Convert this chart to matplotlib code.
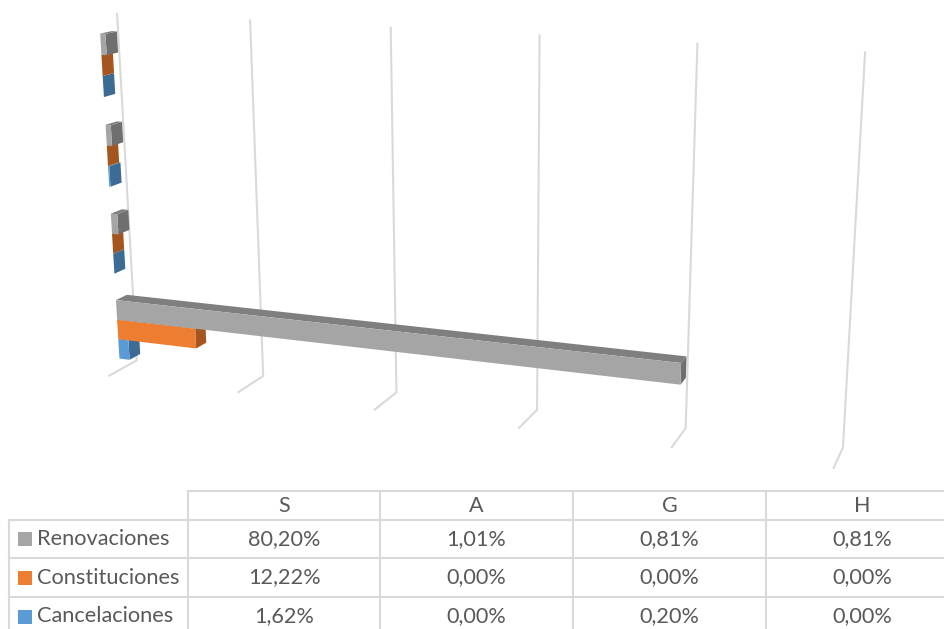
import numpy as np
import matplotlib
matplotlib.use('Agg')
import matplotlib.pyplot as plt
from matplotlib.patches import Polygon, Rectangle

plt.rcParams['font.family'] = ['Lato', 'DejaVu Sans']

categories = ['S', 'A', 'G', 'H']
series_names = ['Renovaciones', 'Constituciones', 'Cancelaciones']
renovaciones = [80.20, 1.01, 0.81, 0.81]
constituciones = [12.22, 0.00, 0.00, 0.00]
cancelaciones = [1.62, 0.00, 0.20, 0.00]
grid_values = [0, 20, 40, 60, 80, 100]

# front, top and side colours of each series
colors = {'Renovaciones': ('#a5a5a5', '#7f7f7f', '#6f6f6f'),
          'Constituciones': ('#ed7d31', '#b25d25', '#a5561f'),
          'Cancelaciones': ('#5b9bd5', '#44749f', '#3c6b94')}
grid_color = '#d9d9d9'
text_color = '#595959'

# pixel positions of the wall corners, used to fit the perspective
# value, depth (0 front, 1 wall), height (0 floor, 1 top) -> px, py
calib = [(0, 1, 1, 118, 13), (0, 1, 0, 137, 362), (0, 0, 0, 108, 377),
         (20, 1, 1, 250, 20), (20, 1, 0, 263, 376), (20, 0, 0, 240, 391),
         (40, 1, 1, 390, 28), (40, 1, 0, 396, 391), (40, 0, 0, 375, 409),
         (60, 1, 1, 539, 36), (60, 1, 0, 537, 409), (60, 0, 0, 519, 428),
         (80, 1, 1, 697, 44), (80, 1, 0, 686, 428), (80, 0, 0, 671, 447),
         (100, 1, 1, 866, 53), (100, 1, 0, 843, 448), (100, 0, 0, 834, 468)]

rows = []
rhs = []
for v, d, h, px, py in calib:
    rows.append([v, d, h, 1, 0, 0, 0, 0, -px * v, -px * d, -px * h])
    rhs.append(px)
    rows.append([0, 0, 0, 0, v, d, h, 1, -py * v, -py * d, -py * h])
    rhs.append(py)
m = np.linalg.lstsq(np.array(rows, float), np.array(rhs, float), rcond=None)[0]
cam = np.append(m, 1).reshape(3, 4)


def proj(v, d, h):
    p = cam @ np.array([v, d, h, 1.0])
    return p[0] / p[2], p[1] / p[2]


fig = plt.figure(figsize=(9.44, 6.29), dpi=100)
ax = fig.add_axes([0, 0, 1, 1])
ax.set_xlim(0, 944)
ax.set_ylim(629, 0)
ax.axis('off')

for v in grid_values:
    pts = [proj(v, 1, 1), proj(v, 1, 0), proj(v, 0, 0)]
    ax.plot([p[0] for p in pts], [p[1] for p in pts], color=grid_color, lw=1.5,
            solid_joinstyle='miter', zorder=1)

d_front, d_back = 0.39, 0.78
band = 1 / len(categories)
bar_h = 0.0577
margin = 0.033


def draw_bar(val, h0, h1, cols, z):
    front = [proj(0, d_front, h0), proj(val, d_front, h0), proj(val, d_front, h1), proj(0, d_front, h1)]
    top = [proj(0, d_front, h1), proj(val, d_front, h1), proj(val, d_back, h1), proj(0, d_back, h1)]
    side = [proj(val, d_front, h0), proj(val, d_back, h0), proj(val, d_back, h1), proj(val, d_front, h1)]
    ax.add_patch(Polygon(side, closed=True, fc=cols[2], ec='none', zorder=z))
    ax.add_patch(Polygon(top, closed=True, fc=cols[1], ec='none', zorder=z))
    ax.add_patch(Polygon(front, closed=True, fc=cols[0], ec='none', zorder=z))


# lower bars first, the upper ones cover them
z = 2
for i in range(len(categories) - 1, -1, -1):
    base = i * band + margin
    for j, (name, vals) in enumerate(zip(series_names[::-1], [cancelaciones, constituciones, renovaciones])):
        draw_bar(vals[i], base + j * bar_h, base + (j + 1) * bar_h, colors[name], z)
        z += 1

# data table, the last column runs past the edge of the picture
col_x = [9, 188, 380, 573, 766, 959]
row_y = [491, 520, 558, 597, 636]
lw = 1.5
ax.plot([col_x[1], col_x[-1]], [row_y[0], row_y[0]], color=grid_color, lw=lw)
for y in row_y[1:]:
    ax.plot([col_x[0], col_x[-1]], [y, y], color=grid_color, lw=lw)
ax.plot([col_x[0], col_x[0]], [row_y[1], row_y[-1]], color=grid_color, lw=lw)
for x in col_x[1:]:
    ax.plot([x, x], [row_y[0], row_y[-1]], color=grid_color, lw=lw)

for k, cat in enumerate(categories):
    ax.text((col_x[k + 1] + col_x[k + 2]) / 2, (row_y[0] + row_y[1]) / 2, cat, ha='center', va='center',
            color=text_color, fontsize=15.5)

table_rows = [renovaciones, constituciones, cancelaciones]
for r, name in enumerate(series_names):
    yc = (row_y[r + 1] + row_y[r + 2]) / 2
    ax.add_patch(Rectangle((18, yc - 7), 14, 14, fc=colors[name][0], ec='none'))
    ax.text(37, yc, name, ha='left', va='center', color=text_color, fontsize=15.7)
    for k, val in enumerate(table_rows[r]):
        label = '{:.2f}%'.format(val).replace('.', ',')
        ax.text((col_x[k + 1] + col_x[k + 2]) / 2, yc, label, ha='center', va='center',
                color=text_color, fontsize=15.6)

fig.savefig('out.png', dpi=100)
